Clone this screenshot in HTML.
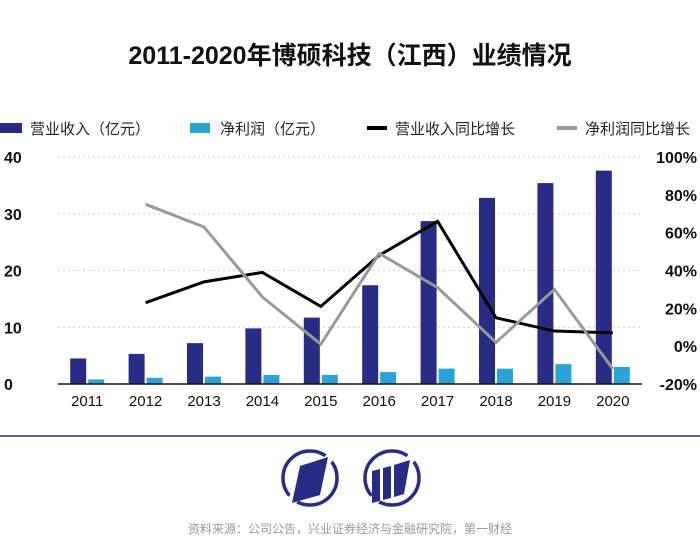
<!DOCTYPE html>
<html><head><meta charset="utf-8"><style>
html,body{margin:0;padding:0;background:#fff;width:700px;height:553px;overflow:hidden}
svg{display:block;font-family:"Liberation Sans","Noto Sans CJK SC",sans-serif}
</style></head><body>
<svg id="c" width="700" height="553">
<text x="350" y="64" text-anchor="middle" font-size="25" font-weight="bold" fill="#111">2011-2020年博硕科技（江西）业绩情况</text>
<g>
 <rect x="0" y="123" width="22" height="10" fill="#272d84"/>
 <text x="30" y="134" font-size="15" fill="#222">营业收入（亿元）</text>
 <rect x="190" y="123" width="20" height="10" fill="#2aa3d8"/>
 <text x="220" y="134" font-size="15" fill="#222">净利润（亿元）</text>
 <rect x="367" y="126" width="20" height="4" fill="#000"/>
 <text x="395" y="134" font-size="15" fill="#222">营业收入同比增长</text>
 <rect x="557" y="126" width="20" height="4" fill="#999"/>
 <text x="585" y="134" font-size="15" fill="#222">净利润同比增长</text>
</g>
<g id="plot"></g>
<line x1="0" y1="436" x2="700" y2="436" stroke="#272d84" stroke-width="1.5"/>
<g>
 <circle cx="310" cy="478" r="27" fill="none" stroke="#272d84" stroke-width="3.5"/>
 <path d="M327 454 L340 452 L293 507 L281 505 Z" fill="#fff"/>
 <path d="M300 466 L328 457 L320 495 L292 503 Z" fill="#272d84"/>
</g>
<g>
 <circle cx="392" cy="478" r="27" fill="none" stroke="#272d84" stroke-width="3.5"/>
 <path d="M409 454 L422 452 L375 507 L363 505 Z" fill="#fff"/>
 <path d="M372 471 L380 469 L380 501 L372 503 Z M383 468 L391 466 L391 498 L383 500 Z M394 465 L410 460 L404 494 L394 497 Z" fill="#272d84"/>
</g>
<text x="350" y="533" text-anchor="middle" font-size="12" fill="#999">资料来源：公司公告，兴业证券经济与金融研究院，第一财经</text>
</svg>
<script>
const years=["2011","2012","2013","2014","2015","2016","2017","2018","2019","2020"];
const revenue=[4.5,5.3,7.2,9.8,11.7,17.4,28.7,32.8,35.4,37.6];
const profit=[0.8,1.1,1.3,1.6,1.6,2.1,2.7,2.7,3.5,3.0];
const revGrowth=[null,23,34,39,21,48,66,15,8,7];
const profGrowth=[null,75,63,26,1,49,31,2,30,-12];
const leftTicks=[0,10,20,30,40];
const rightTicks=[-20,0,20,40,60,80,100];
const NS="http://www.w3.org/2000/svg";
const g=document.getElementById('plot');
const X0=58,X1=642,Y0=384,Y1=157;
const step=(X1-X0)/years.length;
const xc=i=>X0+step*(i+0.5);
const yL=v=>Y0-(v/40)*(Y0-Y1);
const yR=v=>Y0-((v+20)/120)*(Y0-Y1);
function mk(t,a){const e=document.createElementNS(NS,t);for(const k in a)e.setAttribute(k,a[k]);g.appendChild(e);return e;}
leftTicks.forEach(v=>{
 if(v>0){const l=mk('line',{x1:X0,x2:X1,y1:yL(v),y2:yL(v),stroke:'#ccc','stroke-dasharray':'2,3'});
 
 }
 const t=mk('text',{x:4,y:yL(v)+6,'font-size':16,'font-weight':'bold',fill:'#111'});t.textContent=v;
 
 
});
rightTicks.forEach(v=>{
 const t=mk('text',{x:697,y:yR(v)+6,'font-size':16,'font-weight':'bold',fill:'#111','text-anchor':'end'});t.textContent=v+'%';
 
 
});
years.forEach((y,i)=>{
 const b=mk('rect',{x:xc(i)-17,y:yL(revenue[i]),width:16,height:Y0-yL(revenue[i]),fill:'#272d84'});
 
 
 const p=mk('rect',{x:xc(i)+1,y:yL(profit[i]),width:16,height:Y0-yL(profit[i]),fill:'#2aa3d8'});
 
 
 const t=mk('text',{x:xc(i),y:406,'font-size':15,fill:'#111','text-anchor':'middle'});t.textContent=y;
 
 
});
const ax=mk('line',{x1:X0,x2:X1,y1:Y0,y2:Y0,stroke:'#111','stroke-width':1.5});


function pts(arr){return arr.map((v,i)=>v===null?null:xc(i)+','+yR(v)).filter(Boolean).join(' ');}
const l1=mk('polyline',{points:pts(revGrowth),fill:'none',stroke:'#000','stroke-width':3});


const l2=mk('polyline',{points:pts(profGrowth),fill:'none',stroke:'#999','stroke-width':3});


</script>
</body></html>
